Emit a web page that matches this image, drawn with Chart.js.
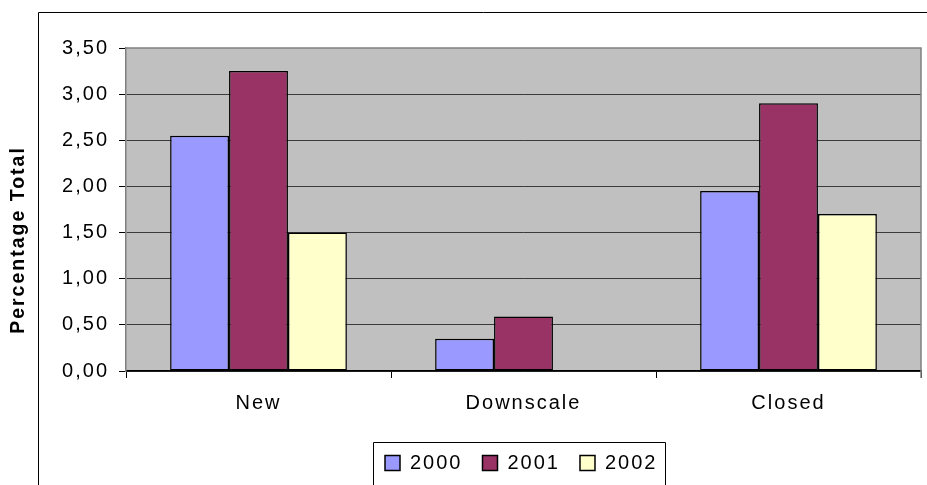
<!DOCTYPE html>
<html>
<head>
<meta charset="utf-8">
<script src="https://cdn.jsdelivr.net/npm/chart.js@4/dist/chart.umd.min.js"></script>
<style>
  html, body { margin: 0; padding: 0; background: #ffffff; }
  canvas { display: block; }
</style>
</head>
<body>
<canvas id="chart" width="927" height="485"></canvas>
<script>
// Chart data
const categories = ['New', 'Downscale', 'Closed'];
const years = ['2000', '2001', '2002'];
const values2000 = [2.55, 0.35, 1.95];
const values2001 = [3.25, 0.59, 2.90];
const values2002 = [1.50, 0, 1.70];
const yTicks = [0, 0.5, 1, 1.5, 2, 2.5, 3, 3.5];
const seriesColors = ['#9999FF', '#993366', '#FFFFCC'];
const yAxisTitle = 'Percentage Total';

// Layout of the plot region
const PLOT_LEFT = 126;
const PLOT_RIGHT = 921;
const PLOT_TOP = 48;
const PLOT_BOTTOM = 371;
const CANVAS_H = 485;
const FONT_FAMILY = '"Liberation Sans", Arial, sans-serif';
const FONT_SIZE = 20;
const LEGEND_PAD = 20;
const LEGEND_H = FONT_SIZE + LEGEND_PAD + 10;
const BOTTOM_PAD = 2;
const LETTER_SPACING = '2px';

const fmt = v => v.toFixed(2).replace('.', ',');

// Spaced-out lettering for all canvas text
const spacingPlugin = {
  id: 'spacing',
  afterInit(chart) { chart.ctx.letterSpacing = LETTER_SPACING; },
  beforeUpdate(chart) { chart.ctx.letterSpacing = LETTER_SPACING; },
  beforeDraw(chart) { chart.ctx.letterSpacing = LETTER_SPACING; }
};

// Grey plot background, plot frame, outer frame, legend frame and axis title
const framePlugin = {
  id: 'frames',
  afterLayout(chart) {
    // legend row starts under the middle of the plot
    chart.legend.left = 385 - LEGEND_PAD;
  },
  beforeDraw(chart) {
    const { ctx, chartArea: a } = chart;
    ctx.save();
    ctx.fillStyle = '#C0C0C0';
    ctx.fillRect(a.left, a.top, a.right - a.left, a.bottom - a.top);
    // outer frame
    ctx.strokeStyle = '#000000';
    ctx.lineWidth = 1;
    ctx.beginPath();
    ctx.moveTo(38.5, CANVAS_H + 5);
    ctx.lineTo(38.5, 12.5);
    ctx.lineTo(940, 12.5);
    ctx.stroke();
    ctx.restore();
  },
  beforeDatasetsDraw(chart) {
    const { ctx, chartArea: a } = chart;
    ctx.save();
    ctx.strokeStyle = '#808080';
    ctx.lineWidth = 1.5;
    ctx.beginPath();
    ctx.moveTo(a.left, a.top);
    ctx.lineTo(a.right, a.top);
    ctx.lineTo(a.right, a.bottom + 7);
    ctx.stroke();
    ctx.restore();
  },
  afterDraw(chart) {
    const { ctx } = chart;
    // vertical axis title
    ctx.save();
    ctx.letterSpacing = '2px';
    ctx.translate(19, 240);
    ctx.rotate(-Math.PI / 2);
    ctx.font = 'bold 19.5px ' + FONT_FAMILY;
    ctx.fillStyle = '#000000';
    ctx.textAlign = 'center';
    ctx.textBaseline = 'middle';
    ctx.fillText(yAxisTitle, 0, 0);
    ctx.restore();

    const hb = chart.legend.legendHitBoxes;
    if (!hb || !hb.length) return;
    const first = hb[0];
    const last = hb[hb.length - 1];
    const x0 = first.left - 12;
    const x1 = last.left + last.width + 8;
    const y0 = first.top - 11;
    ctx.save();
    ctx.strokeStyle = '#000000';
    ctx.lineWidth = 1;
    ctx.beginPath();
    ctx.moveTo(Math.round(x0) + 0.5, CANVAS_H + 5);
    ctx.lineTo(Math.round(x0) + 0.5, Math.round(y0) + 0.5);
    ctx.lineTo(Math.round(x1) + 0.5, Math.round(y0) + 0.5);
    ctx.lineTo(Math.round(x1) + 0.5, CANVAS_H + 5);
    ctx.stroke();
    ctx.restore();
  }
};

const seriesValues = [values2000, values2001, values2002];

new Chart(document.getElementById('chart'), {
  type: 'bar',
  data: {
    labels: categories,
    datasets: years.map((y, i) => ({
      label: y,
      data: seriesValues[i],
      backgroundColor: seriesColors[i],
      borderColor: '#000000',
      borderWidth: 1.5,
      borderSkipped: false,
      categoryPercentage: 0.667,
      barPercentage: 1.0
    }))
  },
  options: {
    responsive: false,
    animation: false,
    devicePixelRatio: 1,
    layout: {
      padding: { left: 0, right: 927 - PLOT_RIGHT, top: PLOT_TOP, bottom: BOTTOM_PAD }
    },
    plugins: {
      tooltip: { enabled: false },
      legend: {
        position: 'bottom',
        align: 'start',
        labels: {
          boxWidth: 15,
          boxHeight: 15,
          padding: LEGEND_PAD,
          color: '#000000',
          font: { family: FONT_FAMILY, size: FONT_SIZE }
        }
      }
    },
    scales: {
      x: {
        grid: {
          offset: true,
          drawOnChartArea: false,
          drawTicks: true,
          tickLength: 7,
          color: '#000000'
        },
        border: { display: true, color: '#000000', width: 1.5 },
        ticks: {
          color: '#000000',
          padding: 13,
          font: { family: FONT_FAMILY, size: FONT_SIZE }
        },
        afterFit(scale) {
          scale.height = CANVAS_H - BOTTOM_PAD - LEGEND_H - PLOT_BOTTOM;
        }
      },
      y: {
        min: 0,
        max: 3.5,
        afterBuildTicks(scale) {
          scale.ticks = yTicks.map(v => ({ value: v }));
        },
        grid: {
          color: ctx => (ctx.tick && ctx.tick.value === 3.5) ? 'rgba(0,0,0,0)' : '#3a3a3a',
          tickColor: '#000000',
          tickLength: 7,
          lineWidth: 1
        },
        border: { display: true, color: '#808080', width: 1.5 },
        ticks: {
          color: '#000000',
          padding: 10,
          callback: v => fmt(v),
          font: { family: FONT_FAMILY, size: FONT_SIZE }
        },
        afterFit(scale) {
          scale.width = PLOT_LEFT;
        }
      }
    }
  },
  plugins: [spacingPlugin, framePlugin]
});
</script>
</body>
</html>
